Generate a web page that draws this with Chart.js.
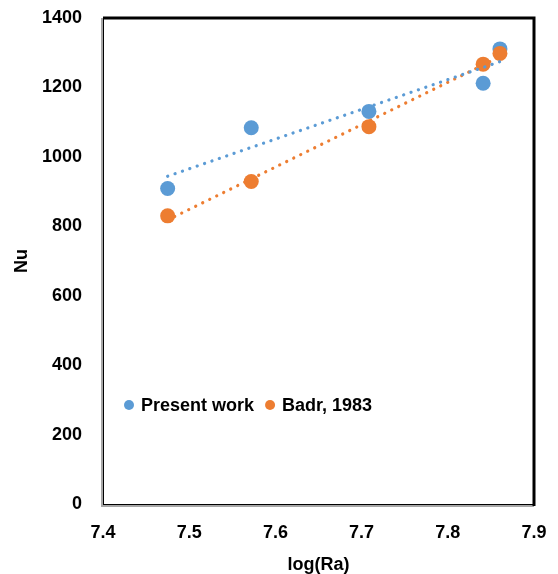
<!DOCTYPE html>
<html>
<head>
<meta charset="utf-8">
<script src="https://cdn.jsdelivr.net/npm/chart.js@4/dist/chart.umd.min.js"></script>
<style>
  html, body { margin: 0; padding: 0; background: #fff; }
  #wrap { width: 558px; height: 574px; position: relative; }
</style>
</head>
<body>
<div id="wrap"><canvas id="c" width="558" height="574"></canvas></div>
<script>
// ---- data ----
const logRa = [7.475, 7.572, 7.7085, 7.841, 7.8605];
const presentWork = [909, 1084, 1131, 1212, 1311];
const badr1983 = [830, 929, 1087, 1267, 1298];
const seriesNames = ['Present work', 'Badr, 1983'];
const xTickLabels = ['7.4', '7.5', '7.6', '7.7', '7.8', '7.9'];
const yTickLabels = ['0', '200', '400', '600', '800', '1000', '1200', '1400'];
const xTitle = 'log(Ra)';
const yTitle = 'Nu';

const BLUE = '#5B9BD5';
const ORANGE = '#ED7D31';
const FONT = '"Liberation Sans", Arial, sans-serif';

function toPoints(xs, ys) { return xs.map((x, i) => ({ x: x, y: ys[i] })); }
// linear least-squares trendline (as Excel's linear trendline)
function trend(xs, ys) {
  const n = xs.length;
  const mx = xs.reduce((a, b) => a + b, 0) / n;
  const my = ys.reduce((a, b) => a + b, 0) / n;
  let sxy = 0, sxx = 0;
  for (let i = 0; i < n; i++) { sxy += (xs[i] - mx) * (ys[i] - my); sxx += (xs[i] - mx) ** 2; }
  const m = sxy / sxx, b = my - m * mx;
  const x0 = Math.min(...xs), x1 = Math.max(...xs);
  return [{ x: x0, y: m * x0 + b }, { x: x1, y: m * x1 + b }];
}

const borderPlugin = {
  id: 'plotBorder',
  afterDraw(chart) {
    const { ctx, chartArea: a } = chart;
    ctx.save();
    // grey shadow lines left & bottom
    ctx.strokeStyle = '#a6a6a6';
    ctx.lineWidth = 2;
    ctx.beginPath();
    ctx.moveTo(a.left - 1, a.top);
    ctx.lineTo(a.left - 1, a.bottom + 2);
    ctx.lineTo(a.right, a.bottom + 2);
    ctx.stroke();
    // thin black box
    ctx.strokeStyle = '#000';
    ctx.lineWidth = 1;
    ctx.strokeRect(a.left + 0.5, a.top + 0.5, a.right - a.left - 1, a.bottom - a.top);
    // thick black top & right
    ctx.lineWidth = 3;
    ctx.beginPath();
    ctx.moveTo(a.left, a.top);
    ctx.lineTo(a.right, a.top);
    ctx.lineTo(a.right, a.bottom + 2);
    ctx.stroke();
    ctx.restore();
  }
};

const legendPlugin = {
  id: 'innerLegend',
  afterDraw(chart) {
    const { ctx, chartArea: a } = chart;
    const y = a.top + 387;
    let x = a.left + 26;
    const colors = [BLUE, ORANGE];
    ctx.save();
    ctx.font = 'bold 18px ' + FONT;
    ctx.textBaseline = 'middle';
    ctx.textAlign = 'left';
    seriesNames.forEach((name, i) => {
      ctx.fillStyle = colors[i];
      ctx.beginPath();
      ctx.arc(x, y, 5, 0, Math.PI * 2);
      ctx.fill();
      ctx.fillStyle = '#000';
      ctx.fillText(name, x + 12, y + 1);
      x += 12 + ctx.measureText(name).width + 16;
    });
    ctx.restore();
  }
};

function noPad(scale) {
  scale.paddingTop = 0; scale.paddingBottom = 0;
  scale.paddingLeft = 0; scale.paddingRight = 0;
}

new Chart(document.getElementById('c'), {
  type: 'scatter',
  data: {
    datasets: [
      {
        label: 'Linear (' + seriesNames[0] + ')',
        data: trend(logRa, presentWork),
        showLine: true,
        borderColor: BLUE,
        borderWidth: 3.2,
        borderCapStyle: 'round',
        borderDash: [0.1, 7.7],
        pointRadius: 0,
        fill: false
      },
      {
        label: 'Linear (' + seriesNames[1] + ')',
        data: trend(logRa, badr1983),
        showLine: true,
        borderColor: ORANGE,
        borderWidth: 3.2,
        borderCapStyle: 'round',
        borderDash: [0.1, 7.7],
        pointRadius: 0,
        fill: false
      },
      {
        label: seriesNames[1],
        data: toPoints(logRa, badr1983),
        backgroundColor: ORANGE,
        borderColor: ORANGE,
        borderWidth: 0,
        pointRadius: 7.5,
        pointHoverRadius: 7.5
      },
      {
        label: seriesNames[0],
        data: toPoints(logRa, presentWork),
        backgroundColor: BLUE,
        borderColor: BLUE,
        borderWidth: 0,
        pointRadius: 7.5,
        pointHoverRadius: 7.5
      }
    ]
  },
  options: {
    responsive: false,
    animation: false,
    events: [],
    layout: { autoPadding: false, padding: { top: 18, right: 24, left: 0, bottom: 0 } },
    plugins: {
      legend: { display: false },
      tooltip: { enabled: false }
    },
    scales: {
      x: {
        type: 'linear',
        min: 7.4,
        max: 7.9,
        afterFit(scale) { scale.height = 70; noPad(scale); },
        afterBuildTicks(scale) {
          scale.ticks = xTickLabels.map(v => ({ value: parseFloat(v) }));
        },
        grid: { display: false, drawTicks: false },
        border: { display: false },
        ticks: {
          padding: 18,
          color: '#000',
          font: { family: FONT, size: 18, weight: 'bold' },
          maxRotation: 0,
          callback: (v, i) => xTickLabels[i]
        },
        title: {
          display: true,
          text: xTitle,
          color: '#000',
          font: { family: FONT, size: 18, weight: 'bold', lineHeight: 1 },
          padding: { top: 0, bottom: 0 }
        }
      },
      y: {
        type: 'linear',
        min: 0,
        max: 1400,
        afterFit(scale) { scale.width = 103; noPad(scale); },
        afterBuildTicks(scale) {
          scale.ticks = yTickLabels.map(v => ({ value: parseFloat(v) }));
        },
        grid: { display: false, drawTicks: false },
        border: { display: false },
        ticks: {
          padding: 21,
          color: '#000',
          font: { family: FONT, size: 18, weight: 'bold' },
          callback: (v, i) => yTickLabels[i]
        },
        title: {
          display: true,
          text: yTitle,
          color: '#000',
          font: { family: FONT, size: 18, weight: 'bold', lineHeight: 1 },
          padding: { top: 13, bottom: 0 }
        }
      }
    }
  },
  plugins: [borderPlugin, legendPlugin]
});
</script>
</body>
</html>
